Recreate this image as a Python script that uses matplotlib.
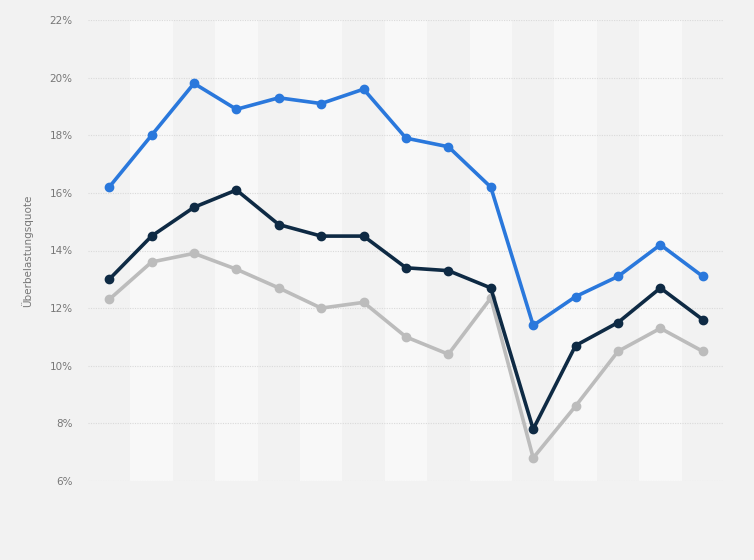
import matplotlib.pyplot as plt
from matplotlib.ticker import FuncFormatter

years = list(range(15))
blue_values = [16.2, 18.0, 19.8, 18.9, 19.3, 19.1, 19.6, 17.9, 17.6, 16.2, 11.4, 12.4, 13.1, 14.2, 13.1]
navy_values = [13.0, 14.5, 15.5, 16.1, 14.9, 14.5, 14.5, 13.4, 13.3, 12.7, 7.8, 10.7, 11.5, 12.7, 11.6]
gray_values = [12.3, 13.6, 13.9, 13.35, 12.7, 12.0, 12.2, 11.0, 10.4, 12.35, 6.8, 8.6, 10.5, 11.3, 10.5]
y_ticks = [6, 8, 10, 12, 14, 16, 18, 20, 22]

BG = "#f2f2f2"
STRIPE = "#f8f8f8"

fig = plt.figure(figsize=(7.54, 5.6), dpi=100, facecolor=BG)
ax = fig.add_axes([88 / 754, 79 / 560, 636 / 754, 461 / 560])
ax.set_facecolor(BG)

# alternating column stripes
for i in years:
    if i % 2 == 1:
        ax.axvspan(i - 0.5, i + 0.5, color=STRIPE, zorder=0, lw=0)

for v in y_ticks:
    ax.axhline(v, color="#dadada", lw=0.8, ls=(0, (1, 1.2)), zorder=1)

ax.plot(years, gray_values, color="#bcbcbc", lw=2.6, marker="o", ms=6, zorder=3)
ax.plot(years, navy_values, color="#0e2a44", lw=2.6, marker="o", ms=6, zorder=4)
ax.plot(years, blue_values, color="#2a78dc", lw=2.6, marker="o", ms=6, zorder=5)

ax.set_xlim(-0.5, 14.5)
ax.set_ylim(6, 22)
ax.set_yticks(y_ticks)
ax.yaxis.set_major_formatter(FuncFormatter(lambda v, p: f"{v:.0f}%"))
ax.tick_params(axis="y", length=0, pad=11, labelsize=7.5, labelcolor="#777777")
ax.set_xticks([])
for s in ax.spines.values():
    s.set_visible(False)

ax.set_ylabel("Überbelastungsquote", fontsize=7.5, color="#777777")
ax.yaxis.set_label_coords(-55 / 636, 0.5)

fig.savefig("out.png", dpi=100, facecolor=BG)
